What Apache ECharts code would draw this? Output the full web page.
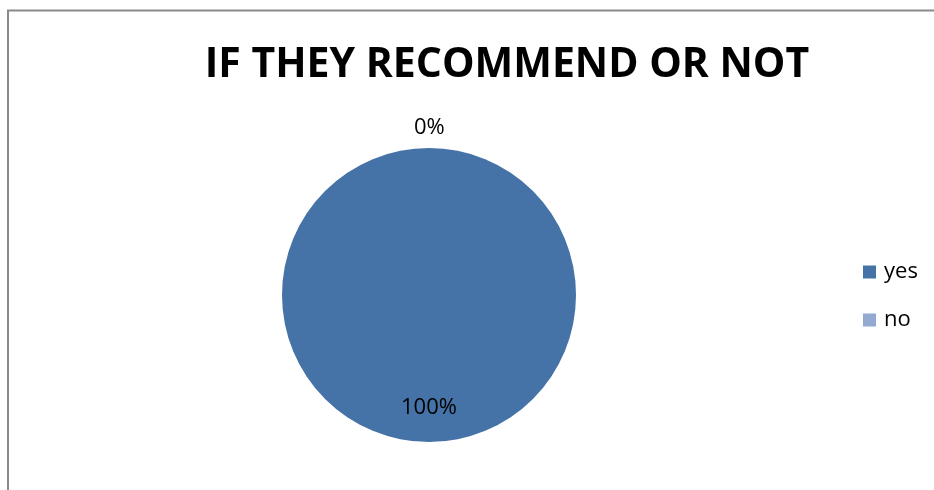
<!DOCTYPE html>
<html>
<head>
<meta charset="utf-8">
<script src="https://cdn.jsdelivr.net/npm/echarts@6/dist/echarts.min.js"></script>
<style>
  html, body { margin: 0; padding: 0; background: #fff; }
  #chart { width: 934px; height: 490px; }
</style>
</head>
<body>
<div id="chart"></div>
<script>
// Survey answers: would they recommend?
const categories = ['yes', 'no'];
const shares = [100, 0];
const sliceColors = ['#4572A7', '#93A9D0'];

const chart = echarts.init(document.getElementById('chart'));

const pieData = categories.map((name, i) => ({
  name,
  value: shares[i],
  itemStyle: { color: sliceColors[i] },
  label: i === 0
    ? { position: 'inside' }
    : { position: 'outside' }
}));

chart.setOption({
  animation: false,
  title: {
    text: 'IF THEY RECOMMEND OR NOT',
    left: 507,
    top: 45,
    textAlign: 'center',
    padding: 0,
    textStyle: {
      fontFamily: 'Open Sans',
      fontWeight: 'bold',
      fontSize: 41,
      color: '#000'
    }
  },
  legend: {
    orient: 'vertical',
    left: 863,
    top: 261,
    padding: 0,
    itemWidth: 13,
    itemHeight: 13,
    itemGap: 26,
    icon: 'rect',
    data: categories,
    textStyle: {
      fontFamily: 'Open Sans',
      fontSize: 22,
      color: '#000',
      padding: [0, 0, 0, 3]
    }
  },
  graphic: [{
    type: 'polyline',
    shape: { points: [[8, 500], [8, 10.5], [944, 10.5]] },
    style: { stroke: '#8a8a8a', lineWidth: 2, fill: null }
  }],
  series: [{
    type: 'pie',
    center: [429, 295],
    radius: 147,
    startAngle: 90,
    clockwise: true,
    avoidLabelOverlap: false,
    stillShowZeroSum: true,
    minShowLabelAngle: -1,
    data: pieData,
    label: {
      show: true,
      formatter: '{d}%',
      fontFamily: 'Open Sans',
      fontSize: 22,
      color: '#000'
    },
    labelLine: { show: false, length: 6, length2: 0 },
    labelLayout: function (params) {
      if (params.dataIndex === 0) {
        return { dy: 36 };
      }
      return { dx: -20, dy: -14 };
    },
    emphasis: { disabled: true }
  }]
});
</script>
</body>
</html>
